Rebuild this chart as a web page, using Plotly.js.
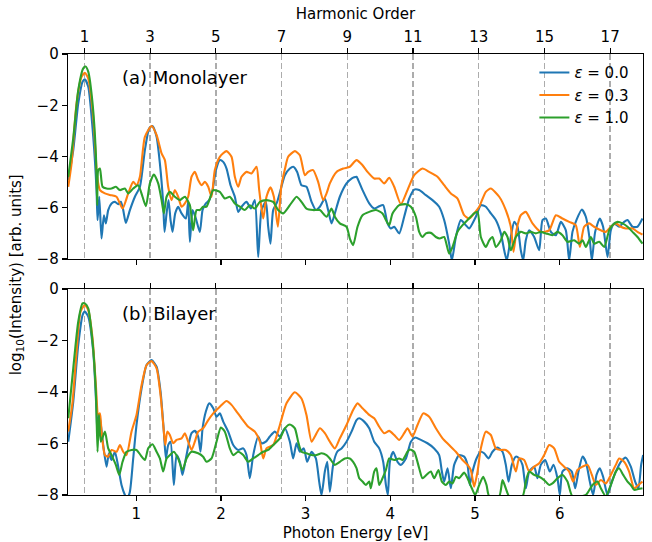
<!DOCTYPE html>
<html><head><meta charset="utf-8">
<script src="https://cdn.plot.ly/plotly-3.0.1.min.js"></script>
<style>html,body{margin:0;padding:0;background:#fff}#chart{width:652px;height:542px}</style>
</head><body><div id="chart"></div>
<script>
// ---- axis / tick data ----
const harmonicOrders = [1, 3, 5, 7, 9, 11, 13, 15, 17];
const fundamentalEnergy = 0.388; // eV
const energyTicks = [1, 2, 3, 4, 5, 6];
const logTicks = [-8, -6, -4, -2, 0];
const seriesLabels = ['<i>ε</i> = 0.0', '<i>ε</i> = 0.3', '<i>ε</i> = 1.0'];
const panelLabels = ['(a) Monolayer', '(b) Bilayer'];

// ---- (a) Monolayer ----
const monoE00x = [0.197,0.256,0.315,0.366,0.393,0.433,0.492,0.531,0.543,0.563,0.59,0.618,0.641,0.669,0.708,0.748,0.787,0.818,0.846,0.877,0.925,0.984,1.043,1.102,1.153,1.192,1.24,1.279,1.318,1.334,1.358,1.381,1.405,1.428,1.46,1.495,1.535,1.586,1.613,1.633,1.665,1.704,1.751,1.783,1.822,1.862,1.901,1.941,1.987,2.027,2.066,2.113,2.164,2.204,2.243,2.302,2.353,2.4,2.44,2.479,2.53,2.558,2.585,2.617,2.664,2.704,2.755,2.814,2.853,2.9,2.951,3.01,3.07,3.121,3.168,3.227,3.266,3.306,3.345,3.404,3.483,3.542,3.601,3.613,3.672,3.751,3.81,3.869,3.916,3.967,4.007,4.046,4.105,4.164,4.223,4.282,4.341,4.42,4.498,4.577,4.636,4.695,4.727,4.774,4.833,4.892,4.931,5.01,5.069,5.128,5.187,5.246,5.305,5.345,5.376,5.423,5.463,5.502,5.541,5.569,5.6,5.64,5.699,5.758,5.797,5.837,5.896,5.955,6.014,6.073,6.112,6.151,6.198,6.262,6.309,6.356,6.38,6.419,6.474,6.513,6.565,6.604,6.643,6.702,6.761,6.801,6.86,6.919,6.978];
const monoE00y = [-4.92,-3.75,-1.93,-1.08,-0.99,-1.28,-3.23,-5.31,-6.48,-5.57,-7.2,-6.29,-6.61,-6.09,-5.83,-5.77,-5.86,-5.77,-6.09,-6.59,-6.09,-5.57,-5.18,-3.75,-2.9,-2.81,-3.23,-4.27,-5.83,-6.94,-6.22,-5.7,-6.48,-6.94,-6.22,-5.96,-6.22,-6.42,-5.77,-7.33,-6.09,-6.42,-6.94,-6.09,-5.83,-5.7,-5.31,-4.53,-4.14,-4.21,-4.47,-5.12,-5.57,-6.16,-5.96,-5.77,-6.03,-5.7,-7.92,-6.09,-5.77,-6.74,-7.4,-6.09,-5.77,-5.31,-4.73,-4.47,-4.4,-4.6,-5.12,-5.18,-5.77,-6.09,-5.96,-5.64,-6.09,-6.61,-6.22,-5.57,-5.05,-4.86,-4.79,-4.86,-5.31,-5.83,-6.03,-5.94,-5.9,-6.61,-6.81,-6.74,-7.0,-6.35,-5.64,-5.29,-5.31,-5.51,-5.7,-5.96,-6.48,-7.4,-8.05,-7.14,-6.48,-6.68,-6.81,-6.35,-5.9,-5.96,-6.22,-6.48,-7.0,-7.66,-8.05,-7.14,-6.55,-6.74,-7.66,-8.05,-7.27,-6.88,-7.14,-7.66,-6.48,-6.42,-6.94,-7.07,-6.55,-6.88,-8.05,-6.94,-6.48,-6.07,-6.35,-7.27,-8.05,-6.94,-6.42,-6.74,-7.92,-6.88,-6.61,-6.74,-6.55,-6.48,-6.74,-6.74,-6.42];

const monoE03x = [0.197,0.236,0.295,0.354,0.393,0.433,0.492,0.539,0.571,0.63,0.69,0.767,0.838,0.905,0.964,1.003,1.043,1.102,1.181,1.24,1.299,1.338,1.377,1.417,1.456,1.495,1.535,1.574,1.613,1.653,1.692,1.731,1.771,1.81,1.85,1.889,1.928,1.987,2.066,2.125,2.164,2.204,2.243,2.302,2.361,2.42,2.452,2.499,2.538,2.585,2.625,2.672,2.712,2.755,2.794,2.873,2.932,2.991,3.03,3.089,3.148,3.207,3.247,3.286,3.365,3.444,3.522,3.601,3.672,3.731,3.81,3.869,3.928,3.987,4.046,4.125,4.203,4.282,4.38,4.459,4.557,4.636,4.715,4.794,4.872,4.931,4.99,5.05,5.128,5.187,5.286,5.364,5.423,5.455,5.49,5.541,5.6,5.679,5.777,5.876,5.955,6.033,6.112,6.19,6.238,6.289,6.348,6.407,6.486,6.545,6.604,6.663,6.722,6.781,6.86,6.919,6.978];
const monoE03y = [-5.18,-4.27,-1.93,-0.89,-0.73,-0.95,-2.45,-4.79,-5.31,-5.44,-5.5,-5.57,-6.03,-5.44,-4.99,-5.12,-4.79,-3.23,-2.81,-3.16,-3.88,-4.14,-5.18,-5.7,-5.31,-5.57,-5.96,-5.83,-5.57,-4.79,-4.6,-4.92,-5.12,-4.99,-5.18,-5.57,-4.53,-4.01,-3.79,-4.01,-4.79,-5.18,-4.79,-4.6,-4.66,-4.4,-5.31,-6.42,-5.57,-5.2,-5.57,-6.74,-5.18,-4.5,-4.01,-3.79,-3.95,-4.73,-4.6,-4.53,-4.99,-5.7,-5.44,-5.05,-4.6,-4.47,-4.4,-4.14,-4.34,-4.6,-4.86,-4.86,-5.05,-4.83,-5.18,-5.86,-5.31,-4.73,-4.47,-4.6,-4.79,-5.12,-5.44,-5.64,-6.29,-6.42,-6.22,-5.96,-5.38,-5.25,-5.57,-6.09,-6.74,-7.72,-6.88,-6.29,-6.16,-6.61,-6.94,-6.88,-6.29,-6.42,-6.55,-6.68,-7.53,-6.74,-6.61,-6.74,-6.88,-6.94,-6.74,-6.61,-6.74,-6.81,-6.81,-6.94,-7.05];

const monoE10x = [0.197,0.256,0.315,0.374,0.401,0.433,0.484,0.523,0.539,0.551,0.571,0.602,0.649,0.708,0.759,0.807,0.866,0.905,0.964,1.023,1.074,1.114,1.161,1.208,1.259,1.299,1.326,1.358,1.397,1.456,1.515,1.574,1.633,1.672,1.712,1.751,1.79,1.83,1.869,1.909,1.987,2.046,2.105,2.164,2.223,2.282,2.341,2.4,2.46,2.538,2.617,2.676,2.735,2.814,2.893,2.951,3.01,3.089,3.168,3.247,3.306,3.345,3.404,3.483,3.522,3.561,3.613,3.672,3.751,3.83,3.908,3.948,3.987,4.026,4.105,4.184,4.243,4.302,4.341,4.38,4.42,4.479,4.538,4.585,4.636,4.695,4.735,4.794,4.853,4.912,4.99,5.03,5.069,5.128,5.168,5.207,5.246,5.305,5.345,5.384,5.423,5.482,5.541,5.6,5.659,5.718,5.777,5.837,5.915,5.974,6.033,6.092,6.171,6.23,6.27,6.309,6.368,6.407,6.467,6.526,6.584,6.624,6.683,6.742,6.801,6.86,6.919,6.978];
const monoE10y = [-4.79,-3.28,-1.41,-0.56,-0.49,-0.69,-1.93,-3.88,-5.9,-4.53,-4.47,-5.18,-5.25,-5.25,-5.18,-5.31,-5.25,-5.44,-5.25,-5.12,-5.57,-5.94,-5.05,-4.7,-5.05,-5.7,-6.22,-5.57,-5.38,-5.57,-5.7,-5.57,-5.9,-6.88,-6.09,-6.09,-5.96,-5.96,-5.64,-5.31,-5.38,-5.64,-5.57,-5.83,-5.96,-6.09,-5.9,-6.03,-5.77,-5.7,-5.77,-6.09,-6.22,-5.9,-5.57,-5.77,-6.03,-6.09,-6.09,-6.35,-6.03,-6.35,-6.61,-6.74,-7.2,-7.46,-6.74,-6.29,-6.16,-6.09,-6.22,-6.48,-6.68,-6.22,-5.9,-5.86,-5.96,-6.35,-6.94,-7.14,-7.0,-6.98,-7.14,-7.2,-7.14,-7.79,-7.53,-6.94,-6.68,-6.48,-6.22,-6.16,-7.14,-7.53,-7.27,-7.14,-7.53,-7.27,-6.94,-7.14,-7.66,-7.14,-6.94,-7.0,-6.94,-7.0,-6.94,-7.0,-7.07,-6.94,-7.07,-7.33,-7.27,-7.4,-7.27,-7.53,-7.14,-7.4,-7.33,-7.53,-6.88,-6.68,-6.55,-6.61,-6.74,-6.94,-7.14,-7.4];

// ---- (b) Bilayer ----
const biE00x = [0.197,0.256,0.315,0.366,0.393,0.433,0.492,0.531,0.543,0.559,0.582,0.61,0.649,0.677,0.708,0.748,0.787,0.826,0.866,0.893,0.925,0.964,1.003,1.063,1.122,1.181,1.24,1.287,1.326,1.35,1.377,1.405,1.444,1.476,1.515,1.546,1.586,1.625,1.653,1.692,1.731,1.759,1.783,1.822,1.861,1.909,1.948,1.987,2.027,2.086,2.145,2.204,2.263,2.302,2.341,2.381,2.44,2.479,2.53,2.577,2.637,2.696,2.755,2.814,2.853,2.893,2.932,2.979,3.018,3.07,3.121,3.16,3.188,3.227,3.255,3.286,3.325,3.373,3.424,3.483,3.542,3.601,3.633,3.692,3.751,3.81,3.869,3.916,3.948,3.971,3.995,4.034,4.085,4.125,4.184,4.243,4.294,4.361,4.439,4.518,4.577,4.609,4.636,4.676,4.715,4.754,4.813,4.872,4.912,4.939,4.971,5.018,5.069,5.108,5.16,5.207,5.266,5.325,5.364,5.396,5.435,5.482,5.522,5.561,5.6,5.64,5.699,5.738,5.777,5.829,5.884,5.927,5.974,6.002,6.033,6.092,6.143,6.183,6.222,6.27,6.309,6.356,6.395,6.435,6.474,6.513,6.565,6.616,6.663,6.722,6.781,6.84,6.891,6.93,6.962,6.986];
const biE00y = [-5.93,-4.38,-2.17,-1.01,-0.88,-1.07,-2.43,-4.76,-5.73,-4.89,-5.28,-6.06,-6.9,-6.38,-6.64,-6.32,-6.9,-7.61,-8.0,-8.15,-7.87,-6.58,-5.28,-3.86,-2.95,-2.76,-3.02,-3.99,-5.54,-6.58,-6.06,-5.93,-7.61,-6.45,-6.71,-7.22,-6.58,-5.93,-5.6,-5.51,-5.73,-6.32,-5.41,-4.76,-4.44,-4.63,-4.96,-4.83,-5.15,-5.54,-6.06,-6.25,-6.19,-6.45,-7.35,-6.45,-5.73,-5.99,-5.93,-5.73,-5.54,-5.73,-5.41,-5.93,-6.58,-5.99,-6.32,-6.19,-6.71,-6.32,-6.58,-7.48,-8.0,-7.09,-6.71,-7.87,-6.83,-6.32,-6.19,-5.93,-5.54,-5.09,-5.02,-5.15,-5.41,-5.93,-6.19,-6.71,-7.61,-8.0,-6.71,-6.32,-6.71,-6.83,-6.58,-5.93,-5.77,-5.86,-5.99,-6.19,-6.45,-7.09,-7.48,-6.96,-7.74,-6.83,-6.45,-6.51,-6.83,-7.61,-7.09,-6.58,-6.32,-6.38,-6.58,-6.32,-6.16,-6.32,-6.83,-7.48,-6.83,-6.51,-6.58,-6.83,-7.74,-7.09,-6.9,-7.35,-6.83,-6.64,-7.09,-6.83,-7.35,-8.0,-7.09,-6.96,-7.09,-7.74,-7.09,-6.51,-6.71,-7.48,-8.0,-7.22,-6.96,-7.29,-8.0,-7.48,-7.09,-6.71,-6.55,-6.9,-7.48,-7.74,-6.83,-6.45];

const biE03x = [0.197,0.248,0.295,0.342,0.393,0.433,0.484,0.523,0.551,0.571,0.59,0.63,0.669,0.708,0.767,0.807,0.846,0.885,0.944,1.003,1.063,1.122,1.181,1.24,1.287,1.326,1.342,1.366,1.397,1.436,1.476,1.535,1.574,1.613,1.653,1.692,1.731,1.79,1.85,1.909,1.987,2.066,2.125,2.184,2.243,2.322,2.4,2.46,2.499,2.538,2.617,2.696,2.774,2.873,2.951,3.01,3.07,3.109,3.168,3.227,3.286,3.345,3.404,3.483,3.561,3.613,3.672,3.751,3.81,3.869,3.928,3.987,4.046,4.105,4.164,4.203,4.262,4.321,4.388,4.459,4.538,4.617,4.695,4.774,4.853,4.912,4.951,4.99,5.03,5.069,5.128,5.187,5.246,5.305,5.364,5.423,5.482,5.522,5.581,5.64,5.699,5.758,5.817,5.876,5.935,5.994,6.053,6.112,6.159,6.21,6.27,6.329,6.38,6.427,6.486,6.545,6.604,6.663,6.702,6.761,6.82,6.88,6.93,6.978];
const biE03y = [-5.54,-4.38,-2.43,-0.88,-0.62,-0.82,-1.92,-3.73,-4.89,-4.83,-5.54,-6.45,-6.51,-6.25,-6.32,-6.06,-6.32,-6.45,-5.54,-4.89,-3.73,-2.95,-2.8,-3.08,-4.12,-5.54,-6.06,-5.54,-5.67,-5.99,-5.86,-5.8,-5.6,-5.93,-6.25,-5.93,-5.54,-5.41,-5.09,-4.83,-4.57,-4.35,-4.5,-4.76,-5.02,-5.35,-5.54,-5.93,-6.58,-6.19,-6.06,-5.28,-4.44,-4.01,-4.25,-4.89,-5.93,-5.73,-5.41,-5.6,-5.93,-6.19,-5.8,-5.28,-4.7,-4.44,-4.63,-4.89,-5.02,-5.35,-5.6,-5.51,-5.67,-5.86,-5.6,-5.41,-5.73,-5.28,-4.83,-4.96,-5.41,-5.8,-6.06,-6.32,-6.64,-6.83,-7.03,-7.68,-7.09,-6.19,-5.54,-5.67,-6.19,-6.25,-6.25,-6.45,-7.09,-6.58,-6.64,-7.09,-6.9,-6.77,-6.45,-6.06,-6.19,-6.71,-6.9,-7.09,-7.48,-7.03,-6.9,-6.83,-7.22,-7.61,-7.42,-7.55,-7.22,-6.83,-6.58,-6.71,-7.09,-7.74,-7.61,-7.48];

const biE10x = [0.197,0.256,0.315,0.366,0.393,0.433,0.484,0.523,0.543,0.559,0.582,0.63,0.669,0.708,0.759,0.799,0.838,0.885,0.944,1.003,1.051,1.102,1.141,1.192,1.24,1.279,1.318,1.358,1.397,1.444,1.495,1.546,1.594,1.653,1.731,1.79,1.83,1.889,1.948,1.999,2.046,2.105,2.145,2.204,2.263,2.322,2.381,2.44,2.499,2.558,2.617,2.696,2.755,2.814,2.873,2.912,2.951,3.01,3.07,3.129,3.188,3.247,3.286,3.345,3.404,3.463,3.522,3.561,3.601,3.633,3.672,3.711,3.751,3.77,3.81,3.837,3.869,3.908,3.948,3.987,4.046,4.105,4.144,4.203,4.231,4.282,4.341,4.38,4.427,4.479,4.518,4.569,4.609,4.656,4.695,4.735,4.774,4.813,4.872,4.912,4.963,5.002,5.05,5.097,5.136,5.168,5.286,5.325,5.364,5.404,5.561,5.6,5.64,5.699,5.758,5.817,5.876,5.915,5.974,6.033,6.092,6.151,6.309,6.388,6.447,6.486,6.545,6.604,6.663,6.702,6.75,6.801,6.84,6.88,6.93,6.978];
const biE10y = [-5.02,-3.08,-1.27,-0.56,-0.56,-0.75,-2.05,-3.99,-6.32,-4.89,-5.93,-5.54,-6.19,-6.45,-6.83,-7.22,-6.71,-6.32,-6.25,-6.25,-6.45,-6.64,-6.19,-6.03,-6.32,-6.58,-7.09,-6.58,-6.45,-6.32,-6.58,-7.03,-6.58,-6.32,-6.38,-6.51,-6.71,-6.58,-5.93,-5.38,-5.54,-6.19,-6.45,-6.32,-6.45,-6.71,-6.58,-6.45,-6.32,-6.25,-6.06,-5.8,-5.41,-5.26,-5.41,-5.93,-6.32,-6.38,-6.45,-6.45,-6.38,-6.45,-6.58,-6.83,-6.71,-6.58,-6.58,-6.71,-6.96,-7.35,-7.48,-7.61,-7.48,-7.74,-7.09,-6.96,-7.61,-7.35,-7.03,-6.58,-6.64,-6.58,-6.64,-6.32,-6.23,-6.32,-6.96,-7.35,-7.22,-7.09,-7.35,-7.03,-7.48,-7.61,-7.48,-7.55,-7.29,-7.35,-7.13,-7.35,-7.74,-8.0,-7.61,-7.29,-7.61,-8.05,-8.05,-7.42,-7.74,-8.05,-8.05,-7.48,-7.09,-7.22,-7.29,-7.42,-7.61,-7.55,-7.35,-7.22,-7.48,-8.05,-8.0,-7.61,-7.48,-7.74,-8.05,-7.61,-7.09,-6.96,-7.22,-7.48,-7.61,-7.8,-7.77,-7.74];

// ---- build ----
const colors = ['#1f77b4', '#ff7f0e', '#2ca02c'];
const xRange = [0.5 * fundamentalEnergy, 18 * fundamentalEnergy];
const harmonicEnergies = harmonicOrders.map(n => n * fundamentalEnergy);

const panels = [
  {xa: 'x', ya: 'y', series: [[monoE00x, monoE00y], [monoE03x, monoE03y], [monoE10x, monoE10y]], legend: true},
  {xa: 'x2', ya: 'y2', series: [[biE00x, biE00y], [biE03x, biE03y], [biE10x, biE10y]], legend: false}
];
const traces = [];
// invisible carriers so the top (harmonic order) axes get drawn
[['x3', 'y'], ['x4', 'y2']].forEach(a => {
  traces.push({type: 'scatter', mode: 'lines', x: harmonicEnergies, y: harmonicEnergies.map(() => null),
    xaxis: a[0], yaxis: a[1], showlegend: false, hoverinfo: 'skip', line: {width: 0}});
});
panels.forEach(p => {
  p.series.forEach((s, i) => {
    traces.push({
      type: 'scatter', mode: 'lines', x: s[0], y: s[1], xaxis: p.xa, yaxis: p.ya,
      name: seriesLabels[i], legendgroup: 'g' + i, showlegend: p.legend,
      line: {color: colors[i], width: 2.1, shape: 'spline', smoothing: 0.6},
      hoverinfo: 'skip'
    });
  });
});

const font = {family: 'DejaVu Sans, sans-serif', size: 15, color: '#000'};
const lineStyle = {showline: true, linecolor: '#000', linewidth: 1.3, mirror: true, zeroline: false,
  ticks: 'outside', ticklen: 5, tickwidth: 1.2, tickcolor: '#000'};
const gridStyle = {showgrid: true, gridcolor: 'rgba(128,128,128,0.65)', gridwidth: 1.3, griddash: '6px,3px'};

const layout = {
  width: 652, height: 542,
  margin: {l: 68, r: 9, t: 54, b: 47},
  paper_bgcolor: '#fff', plot_bgcolor: '#fff',
  font: font,
  showlegend: true,
  legend: {x: 0.985, y: 0.995, xanchor: 'right', yanchor: 'top', bgcolor: 'rgba(0,0,0,0)',
    font: {family: 'DejaVu Sans, sans-serif', size: 15, color: '#000'}, tracegroupgap: 0},
  xaxis: Object.assign({anchor: 'y', domain: [0, 1], range: xRange, tickmode: 'array', tickvals: energyTicks,
    showticklabels: false, showgrid: false}, lineStyle),
  yaxis: Object.assign({anchor: 'x', domain: [0.5351, 1], range: [-8, 0], tickmode: 'array', tickvals: logTicks,
    showgrid: false}, lineStyle),
  xaxis2: Object.assign({anchor: 'y2', domain: [0, 1], range: xRange, tickmode: 'array', tickvals: energyTicks,
    showgrid: false, title: {text: 'Photon Energy [eV]', font: font, standoff: 6}}, lineStyle),
  yaxis2: Object.assign({anchor: 'x2', domain: [0, 0.4671], range: [-8, 0], tickmode: 'array', tickvals: logTicks,
    showgrid: false}, lineStyle),
  xaxis3: Object.assign({overlaying: 'x', anchor: 'y', side: 'top', range: xRange, tickmode: 'array',
    tickvals: harmonicEnergies, ticktext: harmonicOrders.map(String),
    title: {text: 'Harmonic Order', font: font, standoff: 4}}, lineStyle, gridStyle),
  xaxis4: Object.assign({overlaying: 'x2', anchor: 'y2', side: 'top', range: xRange, tickmode: 'array',
    tickvals: harmonicEnergies, showticklabels: false}, lineStyle, gridStyle),
  annotations: [
    {xref: 'x domain', yref: 'y domain', x: 0.09, y: 0.883, xanchor: 'left', yanchor: 'middle',
      text: panelLabels[0], showarrow: false, font: {family: 'DejaVu Sans, sans-serif', size: 18, color: '#000'}},
    {xref: 'x2 domain', yref: 'y2 domain', x: 0.09, y: 0.883, xanchor: 'left', yanchor: 'middle',
      text: panelLabels[1], showarrow: false, font: {family: 'DejaVu Sans, sans-serif', size: 18, color: '#000'}},
    {xref: 'paper', yref: 'paper', x: -0.089, y: 0.5, xanchor: 'center', yanchor: 'middle', textangle: -90,
      text: 'log<sub>10</sub>(Intensity) [arb. units]', showarrow: false, font: font}
  ]
};

Plotly.newPlot('chart', traces, layout, {staticPlot: true, displayModeBar: false});
</script>
</body></html>
